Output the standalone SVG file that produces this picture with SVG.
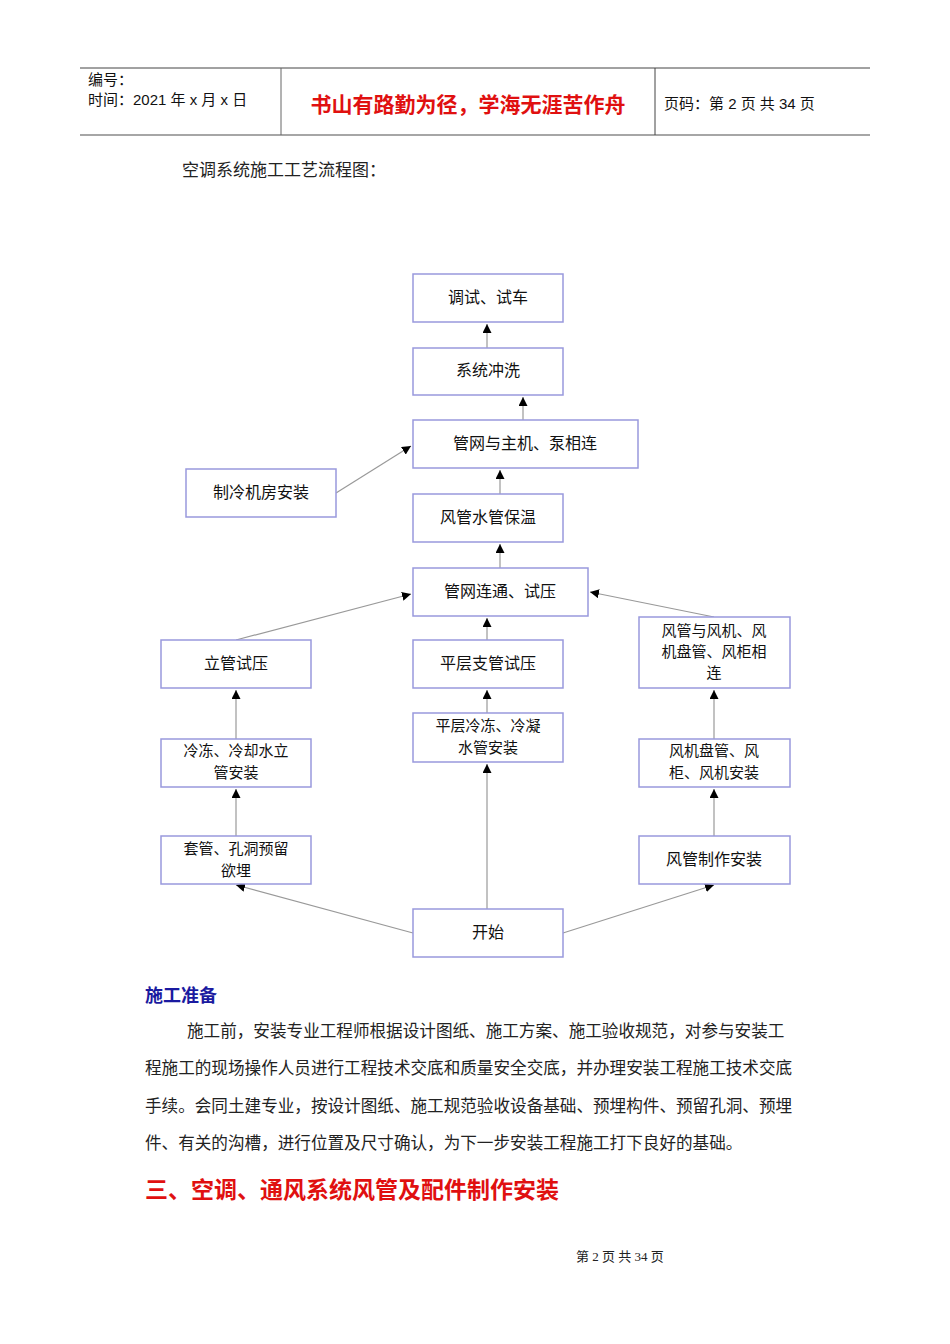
<svg xmlns="http://www.w3.org/2000/svg" width="950" height="1344" viewBox="0 0 950 1344">
<style>
.b{fill:#fff;stroke:#9999dd;stroke-width:1.5}
.t{font-family:"Noto Sans CJK SC","Liberation Sans",sans-serif;font-size:16px;fill:#111;text-anchor:middle}
.m{font-size:15px}
.c line{stroke:#999;stroke-width:1.2;marker-end:url(#a)}
.s{font-family:"Liberation Serif","Noto Sans CJK SC",serif;fill:#222}
.h{font-family:"Liberation Sans","Noto Sans CJK SC",sans-serif;fill:#111;font-size:15px}
</style>
<defs><marker id="a" viewBox="0 0 10 10" refX="10" refY="5" markerWidth="9" markerHeight="9" markerUnits="userSpaceOnUse" orient="auto"><path d="M0,0L10,5L0,10z" fill="#000"/></marker></defs>
<rect width="950" height="1344" fill="#fff"/>
<g id="header">
<line x1="80" y1="68" x2="870" y2="68" stroke="#444"/>
<line x1="80" y1="135" x2="870" y2="135" stroke="#888" stroke-width="1.5"/>
<line x1="281" y1="68" x2="281" y2="135" stroke="#666"/>
<line x1="655" y1="68" x2="655" y2="135" stroke="#444"/>
<text class="h" x="88" y="85">编号：</text>
<text class="h" x="88" y="105">时间：2021 年 x 月 x 日</text>
<text x="468" y="112" font-family="Noto Sans CJK SC,sans-serif" font-size="21" font-weight="bold" fill="#e01010" text-anchor="middle">书山有路勤为径，学海无涯苦作舟</text>
<text class="h" x="664" y="109">页码：第 2 页  共 34 页</text>
</g>
<text class="s" x="182" y="176" font-size="17">空调系统施工工艺流程图：</text>
<g class="c">
<line x1="487" y1="348" x2="487" y2="324"/>
<line x1="523" y1="420" x2="523" y2="397"/>
<line x1="500" y1="494" x2="500" y2="470"/>
<line x1="500" y1="568" x2="500" y2="544"/>
<line x1="487" y1="640" x2="487" y2="618"/>
<line x1="487" y1="713" x2="487" y2="690"/>
<line x1="487" y1="909" x2="487" y2="764"/>
<line x1="336" y1="493" x2="411" y2="446"/>
<line x1="236" y1="640" x2="411" y2="594"/>
<line x1="714" y1="617" x2="590" y2="592"/>
<line x1="236" y1="739" x2="236" y2="690"/>
<line x1="236" y1="836" x2="236" y2="789"/>
<line x1="413" y1="933" x2="236" y2="885"/>
<line x1="563" y1="933" x2="714" y2="885"/>
<line x1="714" y1="836" x2="714" y2="789"/>
<line x1="714" y1="739" x2="714" y2="690"/>
</g>
<g id="n1"><rect class="b" x="413" y="274" width="150" height="48"/><text class="t" x="488" y="303">调试、试车</text></g>
<g id="n2"><rect class="b" x="413" y="348" width="150" height="47"/><text class="t" x="488" y="376">系统冲洗</text></g>
<g id="n3"><rect class="b" x="413" y="420" width="225" height="48"/><text class="t" x="525" y="449">管网与主机、泵相连</text></g>
<g id="n4"><rect class="b" x="186" y="469" width="150" height="48"/><text class="t" x="261" y="498">制冷机房安装</text></g>
<g id="n5"><rect class="b" x="413" y="494" width="150" height="48"/><text class="t" x="488" y="523">风管水管保温</text></g>
<g id="n6"><rect class="b" x="413" y="568" width="175" height="48"/><text class="t" x="500" y="597">管网连通、试压</text></g>
<g id="n7"><rect class="b" x="161" y="640" width="150" height="48"/><text class="t" x="236" y="669">立管试压</text></g>
<g id="n8"><rect class="b" x="413" y="640" width="150" height="48"/><text class="t" x="488" y="669">平层支管试压</text></g>
<g id="n9"><rect class="b" x="639" y="617" width="151" height="71"/><text class="t m" x="714" y="636">风管与风机、风</text><text class="t m" x="714" y="657">机盘管、风柜相</text><text class="t m" x="714" y="678">连</text></g>
<g id="n10"><rect class="b" x="161" y="739" width="150" height="48"/><text class="t m" x="236" y="756">冷冻、冷却水立</text><text class="t m" x="236" y="778">管安装</text></g>
<g id="n11"><rect class="b" x="413" y="713" width="150" height="49"/><text class="t m" x="488" y="731">平层冷冻、冷凝</text><text class="t m" x="488" y="753">水管安装</text></g>
<g id="n12"><rect class="b" x="639" y="739" width="151" height="48"/><text class="t m" x="714" y="756">风机盘管、风</text><text class="t m" x="714" y="778">柜、风机安装</text></g>
<g id="n13"><rect class="b" x="161" y="836" width="150" height="48"/><text class="t m" x="236" y="854">套管、孔洞预留</text><text class="t m" x="236" y="876">欲埋</text></g>
<g id="n14"><rect class="b" x="639" y="836" width="151" height="48"/><text class="t" x="714" y="865">风管制作安装</text></g>
<g id="n15"><rect class="b" x="413" y="909" width="150" height="48"/><text class="t" x="488" y="938">开始</text></g>
<text x="145" y="1002" font-family="Noto Sans CJK SC,sans-serif" font-size="18" font-weight="bold" fill="#1a1aa0">施工准备</text>
<g class="s" font-size="16.6">
<text x="187" y="1037">施工前，安装专业工程师根据设计图纸、施工方案、施工验收规范，对参与安装工</text>
<text x="145" y="1074">程施工的现场操作人员进行工程技术交底和质量安全交底，并办理安装工程施工技术交底</text>
<text x="145" y="1112">手续。会同土建专业，按设计图纸、施工规范验收设备基础、预埋构件、预留孔洞、预埋</text>
<text x="145" y="1149">件、有关的沟槽，进行位置及尺寸确认，为下一步安装工程施工打下良好的基础。</text>
</g>
<text x="145" y="1198" font-family="Noto Sans CJK SC,sans-serif" font-size="23" font-weight="bold" fill="#e01010">三、空调、通风系统风管及配件制作安装</text>
<text class="s" x="620" y="1261" font-size="13" text-anchor="middle">第 2 页 共 34 页</text>
</svg>
